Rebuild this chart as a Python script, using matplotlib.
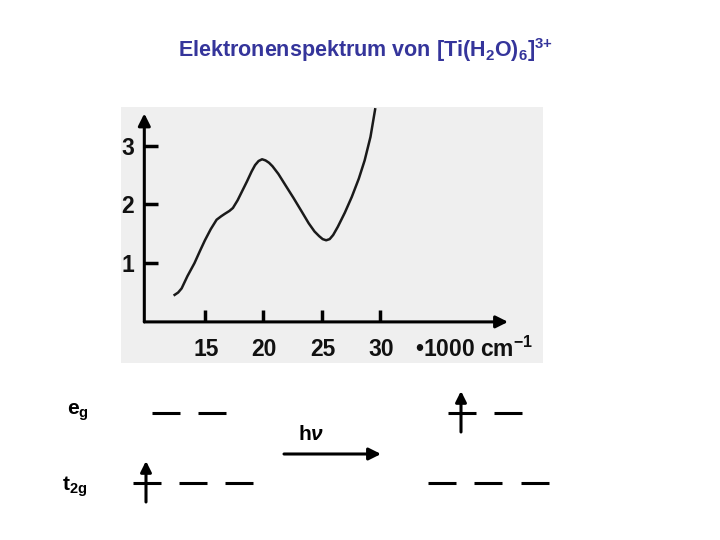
import numpy as np
import matplotlib
matplotlib.use('Agg')
import matplotlib.pyplot as plt

plt.rcParams['font.family'] = ['Liberation Sans', 'DejaVu Sans']
plt.rcParams['mathtext.fontset'] = 'custom'
plt.rcParams['mathtext.rm'] = 'Liberation Sans'
plt.rcParams['mathtext.bf'] = 'Liberation Sans:bold'
plt.rcParams['mathtext.it'] = 'Liberation Sans:italic'
plt.rcParams['mathtext.bfit'] = 'Liberation Sans:bold:italic'

# absorption spectrum (x in 1000 cm-1)
wavenumber = [12.4, 12.7, 13.0, 13.5, 14.1, 14.6, 15.0, 15.5, 16.0, 16.4, 16.7, 17.1, 17.4,
              17.8, 18.1, 18.6, 19.0, 19.3, 19.6, 19.9, 20.2, 20.5, 20.8, 21.3, 21.9, 22.6, 23.3,
              23.9, 24.4, 24.8, 25.1, 25.4, 25.7, 26.0, 26.4, 27.0, 27.6, 28.2, 28.7, 29.2, 29.6]
absorbance = [0.46, 0.50, 0.57, 0.78, 1.00, 1.22, 1.39, 1.58, 1.74, 1.80, 1.84, 1.89, 1.94,
              2.07, 2.19, 2.39, 2.56, 2.67, 2.74, 2.77, 2.75, 2.71, 2.65, 2.52, 2.33, 2.11, 1.88,
              1.68, 1.54, 1.46, 1.41, 1.39, 1.41, 1.48, 1.62, 1.86, 2.13, 2.44, 2.75, 3.15, 3.62]
x_ticks = [15, 20, 25, 30]
y_ticks = [1, 2, 3]

# orbital diagram: number of electrons per level, before and after excitation
eg_before = [0, 0]
t2g_before = [1, 0, 0]
eg_after = [1, 0]
t2g_after = [0, 0, 0]

title_color = '#35359b'

fig = plt.figure(figsize=(7.2, 5.4), dpi=100)
fig.text(0.508, 0.907, r'Elektronenspektrum von [Ti(H$\mathbf{_2}$O)$\mathbf{_6}$]$\mathbf{^{3{+}}}$',
         ha='center', va='center', fontsize=15.5, fontweight='bold', color=title_color)

# spectrum panel
ax = fig.add_axes([121 / 720, 1 - 363 / 540, 422 / 720, 256 / 540])
ax.set_facecolor('#efefef')
ax.set_xlim(7.8, 44.0)
ax.set_ylim(-0.70, 3.66)
for s in ax.spines.values():
    s.set_visible(False)
ax.set_xticks([])
ax.set_yticks([])

x0, y0 = 9.8, 0.0
ax.annotate('', xy=(41.0, y0), xytext=(x0, y0),
            arrowprops=dict(arrowstyle='-|>', lw=2.2, color='black', mutation_scale=18,
                            shrinkA=0, shrinkB=0))
ax.annotate('', xy=(x0, 3.55), xytext=(x0, y0),
            arrowprops=dict(arrowstyle='-|>', lw=2.2, color='black', mutation_scale=18,
                            shrinkA=0, shrinkB=0))
for xt in x_ticks:
    ax.plot([xt, xt], [0, 0.2], color='black', lw=2.5, solid_capstyle='butt')
    ax.text(xt + 0.1, -0.47, str(xt), ha='center', va='center', fontsize=16.5,
            fontweight='bold', color='#111111')
for yt in y_ticks:
    ax.plot([x0, x0 + 1.2], [yt, yt], color='black', lw=2.5, solid_capstyle='butt')
    ax.text(x0 - 1.4, yt - 0.04, str(yt), ha='center', va='center', fontsize=16.5,
            fontweight='bold', color='#111111')
ax.text(33.0, -0.47, '\u20221000 cm$\\mathbf{^{-1}}$', ha='left', va='center',
        fontsize=16.5, fontweight='bold', color='#111111')

ax.plot(wavenumber, absorbance, color='#1a1a1a', lw=1.8, clip_on=True)

# orbital diagram in pixel coordinates
dax = fig.add_axes([0, 0, 1, 1])
dax.set_xlim(0, 720)
dax.set_ylim(540, 0)
dax.axis('off')

dax.text(67, 412, r'$\mathbf{e_g}$', fontsize=15, va='center', ha='left')
dax.text(62, 487, r'$\mathbf{t_{2g}}$', fontsize=15, va='center', ha='left')

level_w = 28


def draw_levels(starts, y, electrons):
    for xs, n in zip(starts, electrons):
        dax.plot([xs, xs + level_w], [y, y], color='black', lw=2.2, solid_capstyle='butt')
        if n:
            xc = xs + 13
            dax.annotate('', xy=(xc, y - 22), xytext=(xc, y + 19),
                         arrowprops=dict(arrowstyle='-|>', lw=2.2, color='black',
                                         mutation_scale=16, shrinkA=0, shrinkB=0))


draw_levels([152, 198], 413, eg_before)
draw_levels([133, 179, 225], 483, t2g_before)
draw_levels([448, 494], 413, eg_after)
draw_levels([428, 474, 521], 483, t2g_after)

dax.annotate('', xy=(381, 454), xytext=(284, 454),
             arrowprops=dict(arrowstyle='-|>', lw=2.2, color='black', mutation_scale=18,
                             shrinkA=0, shrinkB=0))
dax.text(298, 434, r'$\mathbf{h}\mathbfit{\nu}$', fontsize=15, va='center', ha='left')

fig.savefig('out.png', dpi=100)
